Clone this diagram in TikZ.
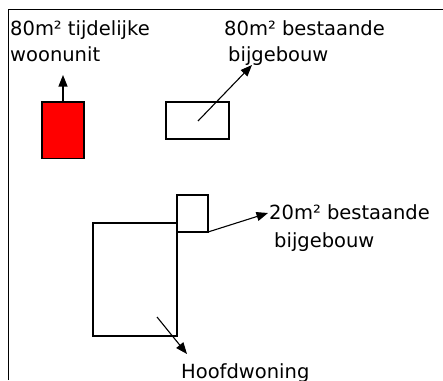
\documentclass[tikz,border=0pt]{standalone}
\usepackage{fontspec}
\setmainfont{DejaVu Sans}
\usetikzlibrary{arrows.meta}
\tikzset{
  bldg/.style={draw=black, line width=1.1pt, fill=white, rectangle, inner sep=0pt, outer sep=0pt, anchor=north west},
  pointer/.style={draw=black, line width=1.1pt, -{Triangle[length=11.5pt,width=9pt]}},
  lbl/.style={anchor=base west, inner sep=0pt, font=\fontsize{19.5}{24}\selectfont},
}
\begin{document}
\begin{tikzpicture}[x=1pt, y=-1pt]
  \useasboundingbox (0,0) rectangle (443,380);
  % plot outline (open to the right and bottom)
  \draw[line width=1.1pt] (8.5,380) -- (8.5,9.5) -- (443,9.5);

  % buildings
  \node[bldg, fill={rgb,255:red,255;green,0;blue,0}, minimum width=42pt, minimum height=56.5pt] (unit) at (42,102) {};
  \node[bldg, minimum width=63pt, minimum height=37pt] (shed) at (166,102) {};
  \node[bldg, minimum width=84pt, minimum height=113pt] (house) at (93,223) {};
  \node[bldg, minimum width=31pt, minimum height=37pt] (small) at (177,195) {};
  \coordinate (shedIn) at (198,121);
  \coordinate (houseIn) at (157,317);

  % labels
  \node[lbl] (tUnit) at (10,35) {80m² tijdelijke};
  \node[lbl] (tUnit2) at (10,61.5) {woonunit};
  \node[lbl] (tShed) at (224,35) {80m² bestaande};
  \node[lbl] (tShed2) at (228,61.5) {bijgebouw};
  \node[lbl] (tSmall) at (269,219.5) {20m² bestaande};
  \node[lbl] (tSmall2) at (274,247) {bijgebouw};
  \node[lbl] (tHouse) at (181,378.5) {Hoofdwoning};

  % pointers
  \coordinate (unitTip) at (63,75);
  \coordinate (shedTip) at (252,65);
  \coordinate (smallTip) at (268,213);
  \coordinate (houseTip) at (187,354);
  \draw[pointer] (unit.north) -- (unitTip);
  \draw[pointer] (shedIn) -- (shedTip);
  \draw[pointer] (small.south east) -- (smallTip);
  \draw[pointer] (houseIn) -- (houseTip);
\end{tikzpicture}
\end{document}
